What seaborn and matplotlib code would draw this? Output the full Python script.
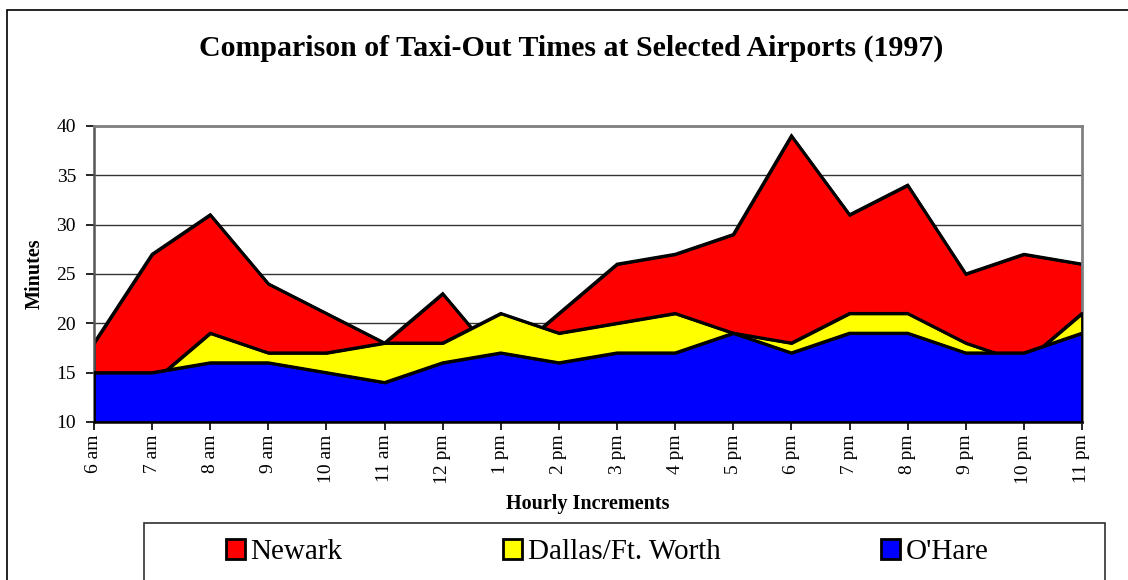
import matplotlib
matplotlib.use("Agg")
import matplotlib.pyplot as plt
import seaborn as sns
import pandas as pd
from matplotlib.patches import Patch, Rectangle

# Average taxi-out minutes by hour of departure
hours = ["6 am", "7 am", "8 am", "9 am", "10 am", "11 am", "12 pm", "1 pm", "2 pm",
         "3 pm", "4 pm", "5 pm", "6 pm", "7 pm", "8 pm", "9 pm", "10 pm", "11 pm"]
newark = [18, 27, 31, 24, 21, 18, 23, 16, 21, 26, 27, 29, 39, 31, 34, 25, 27, 26]
dallas = [15, 14, 19, 17, 17, 18, 18, 21, 19, 20, 21, 19, 18, 21, 21, 18, 16, 21]
ohare = [15, 15, 16, 16, 15, 14, 16, 17, 16, 17, 17, 19, 17, 19, 19, 17, 17, 19]

series_names = ["Newark", "Dallas/Ft. Worth", "O'Hare"]
series_colors = ["#FF0000", "#FFFF00", "#0000FF"]

sns.set_theme(style="white")
plt.rcParams["font.family"] = ["Liberation Serif", "DejaVu Serif"]
plt.rcParams.update({"text.color": "black", "axes.labelcolor": "black",
                     "xtick.color": "black", "ytick.color": "black"})

W, H = 1128, 580
fig = plt.figure(figsize=(W / 100, H / 100), dpi=100)

# outer chart frame
fig.patches.append(Rectangle((7 / W, -0.05), 1.2, 1 - 10 / H + 0.05,
                             transform=fig.transFigure, fill=False,
                             edgecolor="black", linewidth=1.2, zorder=0))

ax = fig.add_axes([94 / W, 1 - 422 / H, 988 / W, 296 / H])

df = pd.DataFrame({"pos": range(len(hours)), "hour": hours,
                   "Newark": newark, "Dallas/Ft. Worth": dallas, "O'Hare": ohare})

base = 10
for i, (name, color) in enumerate(zip(series_names, series_colors)):
    z = 2 + i
    ax.fill_between(df["pos"], base, df[name], facecolor=color, edgecolor="black",
                    linewidth=2, joinstyle="miter", zorder=z)
    sns.lineplot(data=df, x="pos", y=name, color="black", linewidth=2.2,
                 sort=False, estimator=None, ax=ax, zorder=z + 0.5,
                 solid_joinstyle="miter")

ax.set_xlim(0, len(hours) - 1)
ax.set_ylim(10, 40)
ax.set_yticks(range(10, 41, 5))
ax.set_xticks(df["pos"])
ax.set_xticklabels(hours, rotation=90, fontsize=14)
ax.tick_params(axis="y", labelsize=14, pad=7)
ax.tick_params(axis="x", pad=3)
ax.tick_params(axis="both", direction="out", length=6, width=1.2, color="black",
               bottom=True, left=True)

ax.yaxis.grid(True, color="#333333", linewidth=1)
ax.xaxis.grid(False)
ax.set_axisbelow(True)

ax.spines["left"].set_color("#555555")
ax.spines["left"].set_linewidth(1.8)
ax.spines["bottom"].set_color("black")
ax.spines["bottom"].set_linewidth(1.8)
for side in ["top", "right"]:
    ax.spines[side].set_color("#808080")
    ax.spines[side].set_linewidth(2)

ax.set_xlabel("Hourly Increments", fontsize=14.5, fontweight="bold", va="center")
ax.xaxis.set_label_coords(0.5, (422 - 504) / 296)
ax.set_ylabel("Minutes", fontsize=14.5, fontweight="bold", va="center")
ax.yaxis.set_label_coords((35 - 94) / 988, 0.5)

fig.text(571 / W, 1 - 48 / H, "Comparison of Taxi-Out Times at Selected Airports (1997)",
         ha="center", va="center", fontsize=21.5, fontweight="bold")

# legend box
fig.patches.append(Rectangle((144 / W, -0.05), 961 / W, (580 - 523) / H + 0.05,
                             transform=fig.transFigure, facecolor="white",
                             edgecolor="#303030", linewidth=1.2, zorder=1))
handles = [Patch(facecolor=c, edgecolor="black", linewidth=2) for c in series_colors]
fig.legend(handles, series_names, loc="center", bbox_to_anchor=(607 / W, 1 - 552 / H),
           ncol=3, frameon=False, fontsize=21, handlelength=0.65, handleheight=0.7,
           handletextpad=0.2, columnspacing=5.5)

fig.savefig("out.png", dpi=100)
